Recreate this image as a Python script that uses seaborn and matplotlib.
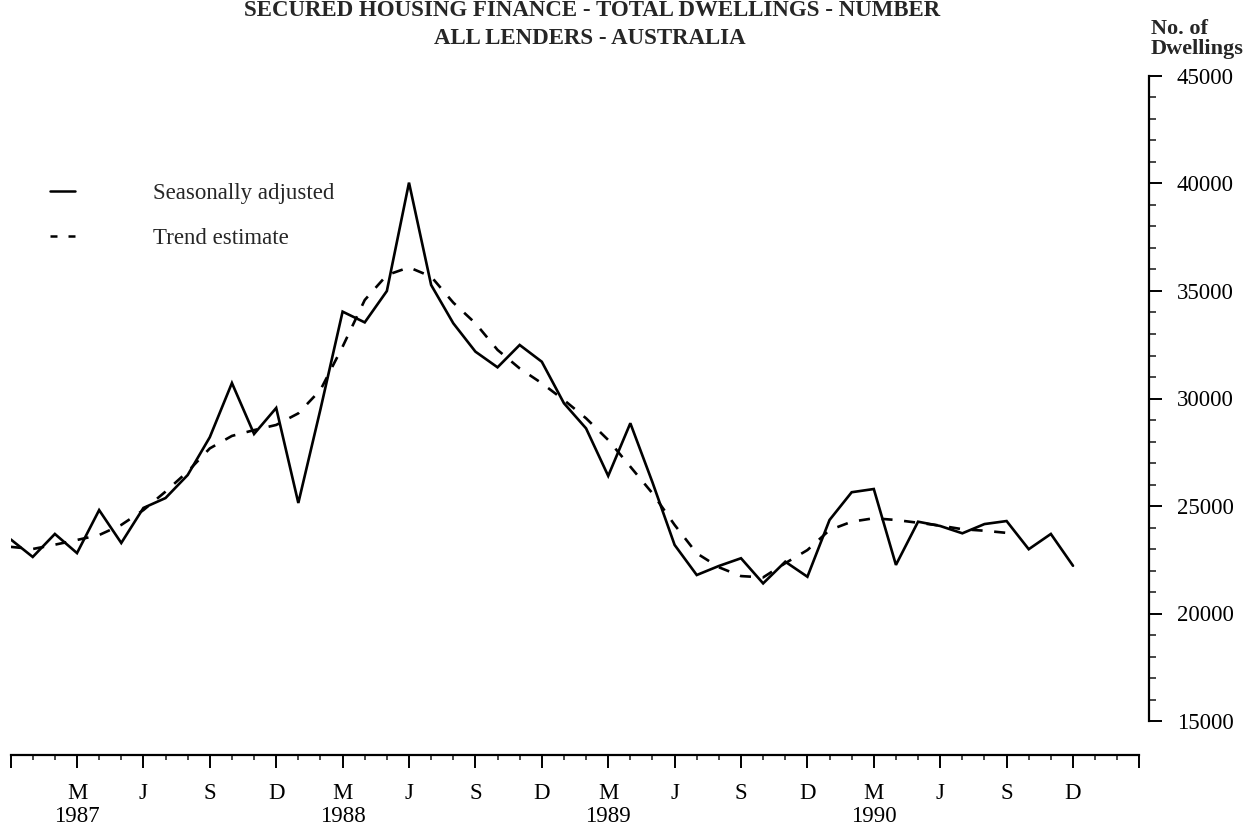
import numpy as np
import pandas as pd
import matplotlib
matplotlib.use("Agg")
import matplotlib.pyplot as plt
from matplotlib.lines import Line2D
import seaborn as sns

# ---------------- data ----------------
start_month = "1986-12"  # first month on the axis (index 0)
seasonally_adjusted = [
    23450, 22630, 23700, 22810, 24810, 23280, 24910, 25370, 26440, 28200,
    30720, 28350, 29560, 25140, 29500, 34040, 33540, 35000, 40040, 35280,
    33500, 32180, 31450, 32490, 31710, 29780, 28610, 26400, 28850, 26100,
    23190, 21790, 22210, 22570, 21400, 22410, 21710, 24350, 25640, 25790,
    22260, 24270, 24070, 23730, 24160, 24300, 22990, 23700, 22220,
]
trend_estimate = [
    23100, 23000, 23200, 23420, 23650, 24120, 24810, 25670, 26600, 27680,
    28260, 28530, 28770, 29310, 30400, 32410, 34580, 35740, 36100, 35670,
    34460, 33500, 32260, 31400, 30710, 29930, 29080, 28070, 26830, 25590,
    24120, 22800, 22150, 21740, 21680, 22340, 22950, 23880, 24270, 24430,
    24350, 24220, 24090, 23920, 23850, 23750,
]
x_tick_labels = ["", "M\n1987", "J", "S", "D", "M\n1988", "J", "S", "D",
                 "M\n1989", "J", "S", "D", "M\n1990", "J", "S", "D", ""]
y_ticks = [15000, 20000, 25000, 30000, 35000, 40000, 45000]
title_lines = ["SECURED HOUSING FINANCE - TOTAL DWELLINGS - NUMBER",
               "ALL LENDERS - AUSTRALIA"]
y_title = "No. of\nDwellings"
legend_labels = ["Seasonally adjusted", "Trend estimate"]

sa_df = pd.DataFrame({"month": np.arange(len(seasonally_adjusted)),
                      "value": seasonally_adjusted})
tr_df = pd.DataFrame({"month": np.arange(len(trend_estimate)),
                      "value": trend_estimate})

# ---------------- style ----------------
sns.set_style("white")
plt.rcParams["font.family"] = ["Liberation Serif", "DejaVu Serif"]
FS = 16.5

W, H = 1253, 834
fig = plt.figure(figsize=(W / 100, H / 100), dpi=100)
ax = fig.add_axes([10.6 / W, 1 - 721 / H, (1139.4 - 10.6) / W, (721 - 76) / H])

sns.lineplot(data=sa_df, x="month", y="value", ax=ax, color="black",
             linewidth=1.9, solid_joinstyle="miter")
sns.lineplot(data=tr_df, x="month", y="value", ax=ax, color="black",
             linewidth=1.9, linestyle=(0, (4.2, 4.4)))

ax.set_xlim(0, 51)
ax.set_ylim(15000, 45000)
ax.set_xlabel("")
ax.set_ylabel("")

# spines
for s in ["left", "top"]:
    ax.spines[s].set_visible(False)
ax.spines["right"].set_position(("outward", 6.9))
ax.spines["bottom"].set_position(("outward", 24.5))
ax.spines["right"].set_bounds(15000, 45000)
ax.spines["bottom"].set_bounds(0, 51)
for s in ["right", "bottom"]:
    ax.spines[s].set_linewidth(1.6)
    ax.spines[s].set_color("black")

# y axis on the right
ax.yaxis.tick_right()
ax.set_yticks(y_ticks)
ax.set_yticklabels([str(v) for v in y_ticks])
ax.yaxis.set_minor_locator(matplotlib.ticker.MultipleLocator(1000))
ax.tick_params(axis="y", which="major", direction="out", length=9.4,
               width=1.4, pad=10.5, labelsize=FS, colors="black",
               left=False, right=True)
ax.tick_params(axis="y", which="minor", direction="out", length=5,
               width=1.2, left=False, right=True)

# x axis
ax.set_xticks(np.arange(0, 52, 3))
ax.set_xticklabels(x_tick_labels)
ax.xaxis.set_minor_locator(matplotlib.ticker.MultipleLocator(1))
ax.tick_params(axis="x", which="major", direction="out", length=9.4,
               width=1.4, pad=10.5, labelsize=FS, colors="black",
               bottom=True)
ax.tick_params(axis="x", which="minor", direction="out", length=3.6,
               width=1.2, bottom=True)
for lbl in ax.get_xticklabels():
    lbl.set_linespacing(1.15)

# titles
fig.text(592 / W, 1 - 11 / H, title_lines[0], ha="center", va="center",
         fontsize=FS, fontweight="bold")
fig.text(590 / W, 1 - 38 / H, title_lines[1], ha="center", va="center",
         fontsize=FS, fontweight="bold")
fig.text(1151 / W, 1 - 19 / H, y_title, ha="left", va="top",
         fontsize=FS - 0.5, fontweight="bold", linespacing=1.02)

# legend
handles = [Line2D([], [], color="black", linewidth=1.8),
           Line2D([], [], color="black", linewidth=1.8,
                  linestyle=(0, (2.8, 4.4)))]
ax.legend(handles=handles, labels=legend_labels, loc="upper left",
          bbox_to_anchor=(50 / W, 1 - 183 / H), bbox_transform=fig.transFigure,
          frameon=False, fontsize=FS, handlelength=1.09, handletextpad=3.4,
          labelspacing=1.05, borderpad=0, borderaxespad=0)

fig.savefig("out.png", dpi=100, facecolor="white")
